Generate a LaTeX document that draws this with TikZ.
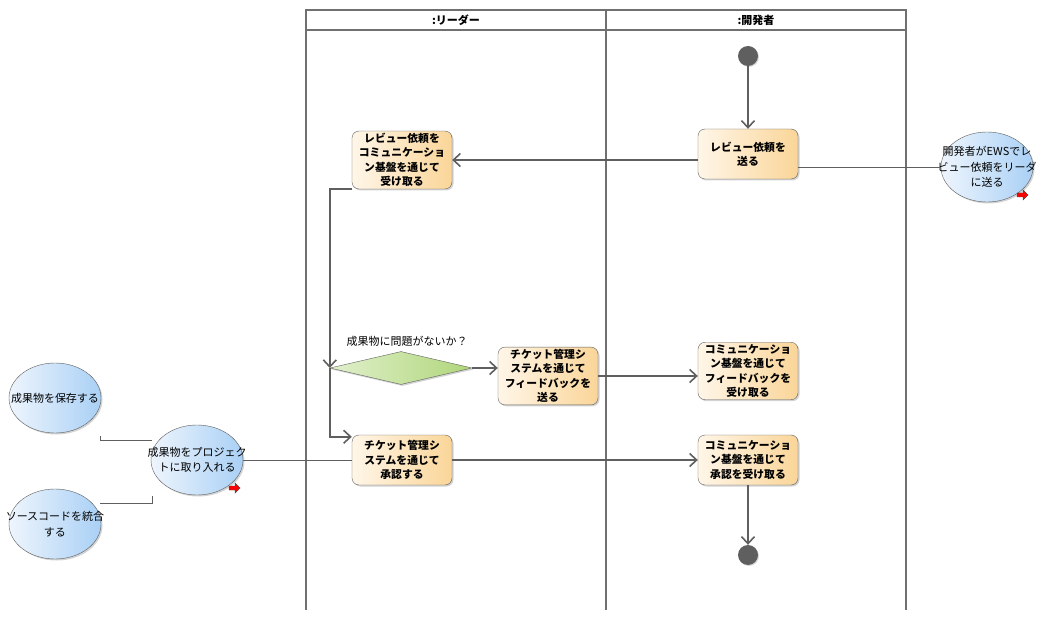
\documentclass[tikz,border=0pt]{standalone}
\usepackage{fontspec}
\setmainfont{Noto Sans CJK JP}
\usepackage{tikz}
\usetikzlibrary{arrows.meta,shapes.geometric,shadows,calc}

\definecolor{edgegray}{HTML}{5F5F5F}
\definecolor{lanegray}{HTML}{707070}
\definecolor{actleft}{HTML}{FFF6E8}
\definecolor{actright}{HTML}{FAD598}
\definecolor{useleft}{HTML}{EEF5FD}
\definecolor{useright}{HTML}{A9D0F5}
\definecolor{decleft}{HTML}{E0F0CC}
\definecolor{decright}{HTML}{B0D67A}

\tikzset{
  action/.style={draw=edgegray, rounded corners=7pt, left color=actleft, right color=actright,
    minimum width=100pt, minimum height=50pt, text width=96pt, align=center, inner sep=2pt,
    font=\fontsize{10.8}{14.5}\selectfont\bfseries,
    drop shadow={shadow xshift=1.5pt, shadow yshift=-1.5pt, opacity=0.35}},
  usecase/.style={draw=edgegray, ellipse, left color=useleft, right color=useright,
    minimum width=92pt, minimum height=70pt, inner sep=-30pt, align=center,
    font=\fontsize{11}{15.5}\selectfont,
    drop shadow={shadow xshift=1.5pt, shadow yshift=-1.5pt, opacity=0.35}},
  decision/.style={draw=edgegray, diamond, aspect=4.3, inner sep=0pt,
    minimum width=142pt, minimum height=33pt, left color=decleft, right color=decright,
    drop shadow={shadow xshift=1.5pt, shadow yshift=-1.5pt, opacity=0.35}},
  dot/.style={circle, fill=edgegray, minimum size=20pt, inner sep=0pt,
    drop shadow={shadow xshift=1pt, shadow yshift=-1pt, opacity=0.3}},
  flow/.style={draw=edgegray, line width=1.6pt, -{Straight Barb[length=7pt,width=13pt]}},
  link/.style={draw=edgegray, line width=0.8pt},
  lanehead/.style={font=\fontsize{11}{13}\selectfont\bfseries},
  redarrow/.style={fill=red, draw=black!70, line width=0.4pt},
}

\begin{document}
\begin{tikzpicture}[x=1pt,y=-1pt]
\useasboundingbox (0,0) rectangle (1063,620);

% swimlanes
\draw[lanegray, line width=1.5pt] (306,610) -- (306,10) -- (906,10) -- (906,610);
\draw[lanegray, line width=1.5pt] (606,10) -- (606,610);
\draw[lanegray, line width=1.5pt] (306,30) -- (906,30);
\node[lanehead] (lanelead) at (456,20) {:リーダー};
\node[lanehead] (lanedev) at (756,20) {:開発者};

% activities
\node[dot] (start) at (748,56) {};
\node[action] (sendreq) at (748,154) {レビュー依頼を\\送る};
\node[action] (recvreq) at (402,160) {レビュー依頼を\\コミュニケーショ\\ン基盤を通じて\\受け取る};
\node[decision] (chk) at (401,368) {};
\node[font=\fontsize{11}{12}\selectfont, anchor=south] (chklbl) at (407,350) {成果物に問題がないか？};
\node[action] (fbsend) at (548,376) {チケット管理シ\\ステムを通じて\\フィードバックを\\送る};
\node[action] (fbrecv) at (748,371) {コミュニケーショ\\ン基盤を通じて\\フィードバックを\\受け取る};
\node[action] (approve) at (402,460) {チケット管理シ\\ステムを通じて\\承認する};
\node[action] (aprecv) at (748,460) {コミュニケーショ\\ン基盤を通じて\\承認を受け取る};
\node[dot] (stop) at (748,555) {};

% use cases
\node[usecase] (ewsnote) at (987,167) {開発者がEWSでレ\\ビュー依頼をリーダ\\に送る};
\node[usecase] (saveres) at (55,398) {成果物を保存する};
\node[usecase] (merge) at (55,524) {ソースコードを統合\\する};
\node[usecase] (intake) at (197,460) {成果物をプロジェク\\トに取り入れる};

% flows
\draw[flow] (start) -- (sendreq);
\draw[flow] (sendreq.west |- recvreq.east) -- (recvreq.east);
\draw[flow] (recvreq.south west) -| (chk.west);
\draw[flow] (chk.west) |- ($(approve.north west)+(0,2)$);
\draw[flow] (chk.east) -- (fbsend.west |- chk.east);
\draw[flow] (fbsend.east) -- (fbrecv.west |- fbsend.east);
\draw[flow] (approve) -- (aprecv);
\draw[flow] (aprecv) -- (stop);

% links
\draw[link] (sendreq.east |- ewsnote.west) -- (ewsnote.west);
\draw[link] (intake) -- (approve);
\coordinate (savetip) at (100,436);
\coordinate (mergetip) at (100,503);
\draw[link] (savetip) |- (152,440);
\draw[link] (mergetip) -- (152,503) -- (152,496);

% small red arrows
\foreach \px/\py in {235/488, 1023/195} {
  \draw[redarrow] (\px-6,\py-2) -- (\px,\py-2) -- (\px,\py-5) -- (\px+5,\py) -- (\px,\py+5) -- (\px,\py+2) -- (\px-6,\py+2) -- cycle;
}
\end{tikzpicture}
\end{document}
